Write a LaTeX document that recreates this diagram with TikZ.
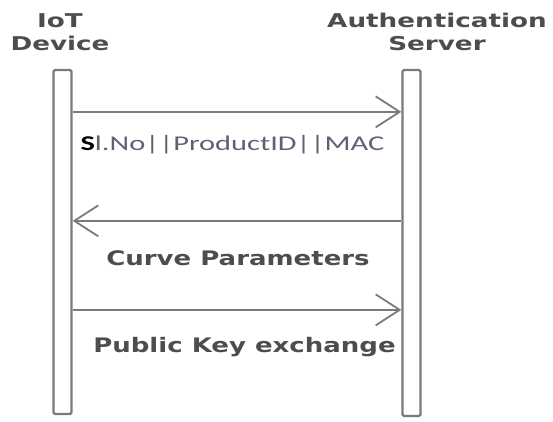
\documentclass[tikz,border=0pt]{standalone}
\usepackage{fontspec}
\usepackage{xcolor}
\newfontfamily\hdfont{DejaVu Sans}
\newfontfamily\msgfont{Carlito}
\definecolor{txtgray}{HTML}{4D4D4D}
\definecolor{idgray}{HTML}{5C6474}
\definecolor{linegray}{HTML}{7A7A7A}
\usetikzlibrary{arrows.meta}

\begin{document}
\begin{tikzpicture}[x=1pt, y=-1pt,
    every node/.style={inner sep=0pt},
    lifebar/.style={draw=linegray, line width=2.3pt, fill=white, rounded corners=1.5pt, minimum width=18pt},
    msg/.style={draw=linegray, line width=1.8pt, -{Straight Barb[length=24pt, width=31pt, line width=1.8pt]}},
    hdtext/.style={font=\hdfont\bfseries\fontsize{19}{23}\selectfont, text=txtgray, align=center, xscale=1.38},
    msgtext/.style={font=\hdfont\bfseries\fontsize{20}{24}\selectfont, text=txtgray, xscale=1.3}]
  \useasboundingbox (0,0) rectangle (553,421);
  % headers
  \node[hdtext, anchor=south] (devname) at (60,51) {IoT\\Device};
  \node[hdtext, anchor=south] (srvname) at (437,51) {Authentication\\Server};
  % life lines
  \node[lifebar, minimum height=344pt] (dev) at (62.5,242) {};
  \node[lifebar, minimum height=346pt] (srv) at (411.5,243) {};

  % messages
  \draw[msg] ([yshift=-43pt]dev.north east) -- ([yshift=-43pt]srv.north west);
  \node[anchor=base, font=\msgfont\fontsize{21}{24}\selectfont, text=idgray, xscale=1.45] (idmsg) at (232.5,150) {\textcolor{black}{\textbf{S}}l.No||ProductID||MAC};
  \draw[msg] ([yshift=-152pt]srv.north west) -- ([yshift=-152pt]dev.north east);
  \node[msgtext, anchor=base] (curvemsg) at (238,265) {Curve Parameters};
  \draw[msg] ([yshift=-241pt]dev.north east) -- ([yshift=-241pt]srv.north west);
  \node[msgtext, anchor=base] (keymsg) at (244.5,352) {Public Key exchange};
\end{tikzpicture}
\end{document}
